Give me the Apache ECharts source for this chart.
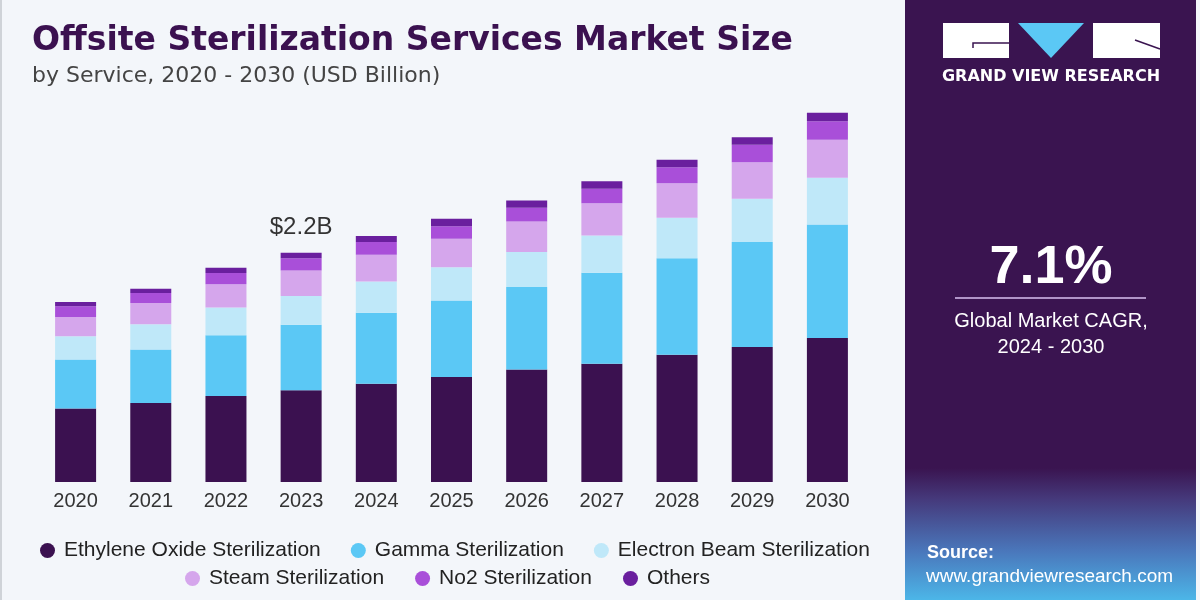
<!DOCTYPE html>
<html>
<head>
<meta charset="utf-8">
<script src="https://cdn.jsdelivr.net/npm/echarts@6/dist/echarts.min.js"></script>
<style>
html,body{margin:0;padding:0;background:#f3f6fa;}
#c{width:1200px;height:600px;}
</style>
</head>
<body>
<div id="c"></div>
<script>
const years = ['2020','2021','2022','2023','2024','2025','2026','2027','2028','2029','2030'];
const ethyleneOxide = [0.704,0.757,0.825,0.879,0.943,1.007,1.078,1.135,1.221,1.294,1.381];
const gamma        = [0.470,0.515,0.582,0.630,0.681,0.735,0.792,0.872,0.926,1.007,1.090];
const electronBeam = [0.223,0.240,0.266,0.274,0.300,0.319,0.336,0.358,0.387,0.416,0.448];
const steam        = [0.185,0.204,0.223,0.246,0.256,0.272,0.294,0.310,0.332,0.351,0.364];
const no2          = [0.103,0.096,0.108,0.118,0.121,0.121,0.131,0.138,0.153,0.167,0.178];
const others       = [0.041,0.042,0.052,0.052,0.058,0.071,0.070,0.073,0.071,0.073,0.081];
const seriesNames = ['Ethylene Oxide Sterilization','Gamma Sterilization','Electron Beam Sterilization','Steam Sterilization','No2 Sterilization','Others'];
const seriesColors = ['#3b1150','#5bc8f5','#bfe8f9','#d5a6ec','#a94fd9','#6a1f9e'];
const highlightIndex = 3;
const highlightLabel = '$2.2B';

const chart = echarts.init(document.getElementById('c'));
const allData = [ethyleneOxide, gamma, electronBeam, steam, no2, others];
const series = allData.map((d, i) => ({
  name: seriesNames[i],
  type: 'bar',
  stack: 'total',
  barWidth: 41,
  itemStyle: { color: seriesColors[i] },
  emphasis: { disabled: true },
  data: d.map((v, j) => {
    if (i === allData.length - 1 && j === highlightIndex) {
      return { value: v, label: { show: true, position: 'top', distance: 13, formatter: highlightLabel, color: '#333', fontSize: 24, fontFamily: 'Liberation Sans' } };
    }
    return v;
  })
}));

const legendText = { color: '#222', fontSize: 21, fontFamily: 'Liberation Sans', padding: [0, 0, 0, 4] };
chart.setOption({
  backgroundColor: '#f3f6fa',
  animation: false,
  grid: { left: 38, right: 1200 - 865, top: 65, bottom: 118 },
  xAxis: {
    type: 'category', data: years,
    axisLine: { show: false }, axisTick: { show: false },
    axisLabel: { color: '#333', fontSize: 20, fontFamily: 'Liberation Sans', margin: 9 }
  },
  yAxis: { type: 'value', min: 0, max: 4, show: false, splitLine: { show: false } },
  legend: [
    { data: seriesNames.slice(0, 3), left: 35, top: 535, icon: 'circle', itemWidth: 15, itemHeight: 15, itemGap: 30, textStyle: legendText, selectedMode: false },
    { data: seriesNames.slice(3), left: 180, top: 563, icon: 'circle', itemWidth: 15, itemHeight: 15, itemGap: 31, textStyle: legendText, selectedMode: false }
  ],
  graphic: [
    { type: 'rect', left: 0, top: 0, shape: { width: 2, height: 600 }, style: { fill: '#cfd3d8' } },
    { type: 'text', x: 32, y: 41, style: { text: 'Offsite Sterilization Services Market Size', fill: '#3b1150', font: 'bold 33px "DejaVu Sans"', textVerticalAlign: 'middle' } },
    { type: 'text', x: 32, y: 76, style: { text: 'by Service, 2020 - 2030 (USD Billion)', fill: '#444', font: '22px "DejaVu Sans"', textVerticalAlign: 'middle' } },
    { type: 'rect', shape: { x: 905, y: 0, width: 291, height: 600 }, style: { fill: new echarts.graphic.LinearGradient(0, 0, 0, 1, [
      { offset: 0, color: '#3a1450' }, { offset: 0.78, color: '#3a1450' }, { offset: 0.83, color: '#45387a' }, { offset: 0.92, color: '#4a78bc' }, { offset: 1, color: '#4cb6e8' }
    ]) } },
    { type: 'rect', shape: { x: 943, y: 23, width: 66, height: 35 }, style: { fill: '#ffffff' } },
    { type: 'polyline', shape: { points: [[973, 48], [973, 43], [1009, 43]] }, style: { stroke: '#3a1450', lineWidth: 1.5, fill: null } },
    { type: 'polygon', shape: { points: [[1018, 23], [1084, 23], [1051, 58]] }, style: { fill: '#5bc8f5' } },
    { type: 'rect', shape: { x: 1093, y: 23, width: 67, height: 35 }, style: { fill: '#ffffff' } },
    { type: 'line', shape: { x1: 1135, y1: 40, x2: 1160, y2: 49 }, style: { stroke: '#3a1450', lineWidth: 1.5 } },
    { type: 'text', x: 1051, y: 77, style: { text: 'GRAND VIEW RESEARCH', fill: '#ffffff', font: 'bold 16px "DejaVu Sans"', textAlign: 'center', textVerticalAlign: 'middle' } },
    { type: 'text', x: 1051, y: 268, style: { text: '7.1%', fill: '#ffffff', font: 'bold 54px "Liberation Sans"', textAlign: 'center', textVerticalAlign: 'middle' } },
    { type: 'line', shape: { x1: 955, y1: 298, x2: 1146, y2: 298 }, style: { stroke: '#d9bff0', lineWidth: 1.5 } },
    { type: 'text', x: 1051, y: 321, style: { text: 'Global Market CAGR,', fill: '#ffffff', font: '20px "Liberation Sans"', textAlign: 'center', textVerticalAlign: 'middle' } },
    { type: 'text', x: 1051, y: 347, style: { text: '2024 - 2030', fill: '#ffffff', font: '20px "Liberation Sans"', textAlign: 'center', textVerticalAlign: 'middle' } },
    { type: 'text', x: 927, y: 553, style: { text: 'Source:', fill: '#ffffff', font: 'bold 18px "Liberation Sans"', textVerticalAlign: 'middle' } },
    { type: 'text', x: 926, y: 577, style: { text: 'www.grandviewresearch.com', fill: '#ffffff', font: '19px "Liberation Sans"', textVerticalAlign: 'middle' } }
  ],
  series: series
});
</script>
</body>
</html>
